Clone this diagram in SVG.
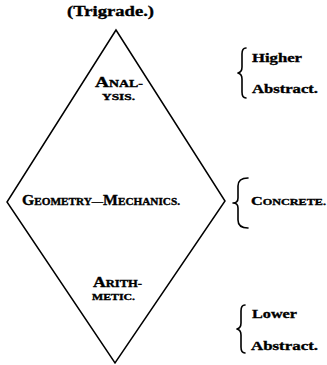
<svg xmlns="http://www.w3.org/2000/svg" width="327" height="365" viewBox="0 0 327 365">
<style>
text{font-family:"Liberation Serif","DejaVu Serif",serif;font-weight:bold;fill:#000;stroke:#000;stroke-width:0.35}
.lg{font-size:14px}
.sm{font-size:10px}
.br{fill:none;stroke:#000;stroke-width:1.6;stroke-linecap:round;stroke-linejoin:round}
.edge{fill:none;stroke:#000;stroke-width:1.5}
</style>
<rect width="327" height="365" fill="#fff"/>
<g id="title"><text x="67" y="16" font-size="15" textLength="87" lengthAdjust="spacingAndGlyphs">(Trigrade.)</text></g>
<g id="connectors">
<path class="edge" d="M116,30 L225,201 L115,363 L7,202 Z"/>
</g>
<g id="analysis">
<text x="95" y="87" textLength="48" lengthAdjust="spacingAndGlyphs"><tspan class="lg">A</tspan><tspan class="sm">NAL-</tspan></text>
<text x="102" y="100" font-size="9" textLength="33" lengthAdjust="spacingAndGlyphs">YSIS.</text>
</g>
<g id="geometry">
<text x="22" y="205" textLength="158" lengthAdjust="spacingAndGlyphs"><tspan class="lg">G</tspan><tspan class="sm">EOMETRY—</tspan><tspan class="lg">M</tspan><tspan class="sm">ECHANICS.</tspan></text>
</g>
<g id="arithmetic">
<text x="93" y="287" textLength="49" lengthAdjust="spacingAndGlyphs"><tspan class="lg">A</tspan><tspan class="sm">RITH-</tspan></text>
<text x="92" y="300" font-size="9" textLength="43" lengthAdjust="spacingAndGlyphs">METIC.</text>
</g>
<g id="higher">
<path class="br" d="M246,48 Q242,48 242,54 L242,67 Q242,72 238,73 Q242,74 242,79 L242,92 Q242,98 246,98"/>
<text x="252" y="62" font-size="13" textLength="50" lengthAdjust="spacingAndGlyphs">Higher</text>
<text x="252" y="93" font-size="13" textLength="66" lengthAdjust="spacingAndGlyphs">Abstract.</text>
</g>
<g id="concrete">
<path class="br" d="M248,178 Q238,178 238,186 L238,198 Q238,203 233,203 Q238,203 238,208 L238,220 Q238,228 248,228"/>
<text x="251" y="205" textLength="75" lengthAdjust="spacingAndGlyphs"><tspan font-size="12">C</tspan><tspan font-size="9">ONCRETE.</tspan></text>
</g>
<g id="lower">
<path class="br" d="M245,305 Q241,305 241,311 L241,323 Q241,328 237,329 Q241,330 241,335 L241,347 Q241,353 245,353"/>
<text x="252" y="318" font-size="13" textLength="45" lengthAdjust="spacingAndGlyphs">Lower</text>
<text x="251" y="350" font-size="13" textLength="67" lengthAdjust="spacingAndGlyphs">Abstract.</text>
</g>
</svg>
